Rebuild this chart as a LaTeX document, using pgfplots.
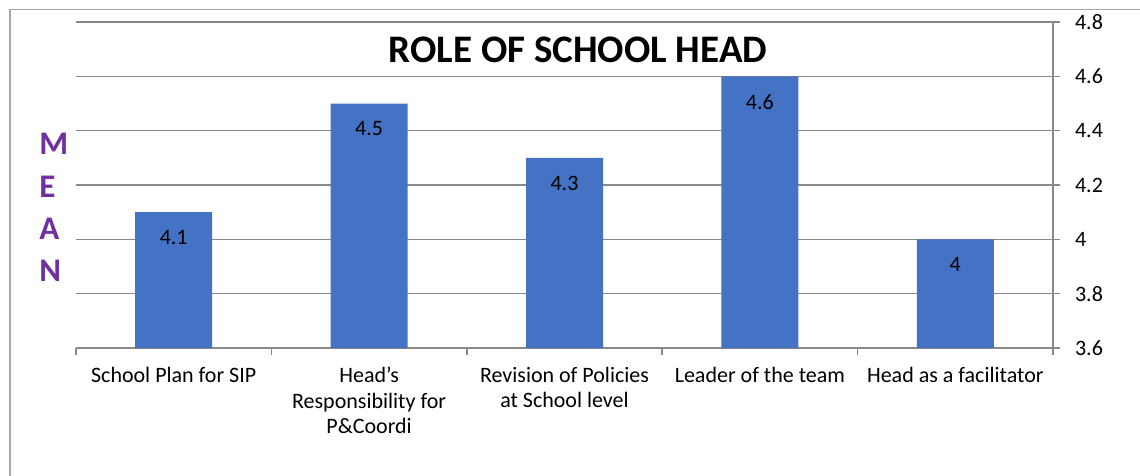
\documentclass[border=0pt]{standalone}
\usepackage{fontspec}
\setmainfont{Carlito}
\usepackage{pgfplots}
\pgfplotsset{compat=1.18}
\definecolor{barblue}{HTML}{4472C4}
\definecolor{meanpurple}{HTML}{7030A0}
\definecolor{gridgray}{HTML}{898989}
\definecolor{framegray}{HTML}{A6A6A6}
\begin{document}
\begin{tikzpicture}
\useasboundingbox (0,0) rectangle (570pt,-238pt);
\draw[framegray, line width=0.9pt] (5pt,-238pt) -- (5pt,-4.75pt) -- (570pt,-4.75pt);
\begin{axis}[
  at={(38pt,-174pt)}, anchor=south west,
  scale only axis, width=488.5pt, height=163pt,
  xmin=-0.5, xmax=4.5, ymin=3.6, ymax=4.8,
  axis x line*=bottom, axis y line*=right,
  axis line style={gridgray, line width=0.8pt},
  every tick/.style={gridgray, line width=0.8pt},
  tick align=outside, major tick length=3.5pt,
  ytick={3.6,3.8,4,4.2,4.4,4.6,4.8},
  yticklabels={3.6,3.8,4,4.2,4.4,4.6,4.8},
  yticklabel style={font=\fontsize{11}{13}\selectfont, xshift=4pt},
  ymajorgrids, grid style={gridgray, line width=0.8pt},
  xtick={-0.5,0.5,1.5,2.5,3.5,4.5},
  xticklabels={},
  extra x ticks={0,1,2,3,4},
  extra x tick labels={School Plan for SIP, {Head’s\\Responsibility for\\P\&Coordi}, {Revision of Policies\\at School level}, Leader of the team, Head as a facilitator},
  extra x tick style={major tick length=0pt, xticklabel style={align=center, font=\fontsize{11}{12.75}\selectfont, yshift=-6pt}},
  /pgf/number format/assume math mode=true,
  clip=true,
]
\addplot[ybar, bar width=38.5pt, fill=barblue, draw=none,
  nodes near coords,
  nodes near coords style={anchor=north, yshift=-5.5pt, font=\fontsize{11}{12}\selectfont, text=black}]
  coordinates {(0,4.1) (1,4.5) (2,4.3) (3,4.6) (4,4.0)};
\end{axis}
\node[font=\bfseries\fontsize{19.5}{22}\selectfont] at (289pt,-25pt) {ROLE OF SCHOOL HEAD};
\node[anchor=west, align=left, font=\bfseries\fontsize{16.5}{21.2}\selectfont, text=meanpurple, inner sep=0pt] at (19.5pt,-103.75pt) {M\\E\\A\\N};
\end{tikzpicture}
\end{document}
